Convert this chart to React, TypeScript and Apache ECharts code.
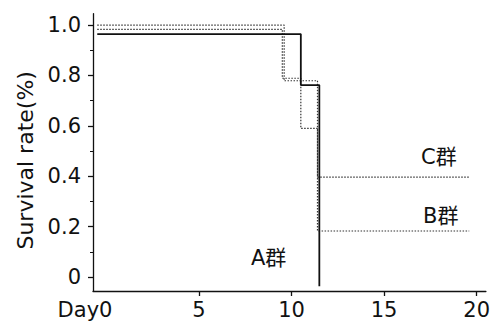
import React, { useEffect, useRef } from "react";
import * as echarts from "echarts";

const groupA: [number, number][] = [
  [-0.5, 0.964],
  [10.5, 0.762],
  [11.5, -0.036],
];
const groupB: [number, number][] = [
  [-0.5, 0.983],
  [9.5, 0.789],
  [10.5, 0.59],
  [11.4, 0.183],
  [19.6, 0.183],
];
const groupC: [number, number][] = [
  [-0.5, 1.0],
  [9.6, 0.779],
  [11.4, 0.397],
  [19.6, 0.397],
];
const xTicks = [5, 10, 15, 20];
const xLabels = [0, 5, 10, 15, 20];
const yTicks = [0, 0.2, 0.4, 0.6, 0.8, 1.0];
const yMinorTicks = [0.1, 0.3, 0.5, 0.7, 0.9];
const yLabelText = ["0", "0.2", "0.4", "0.6", "0.8", "1.0"];

const FONT = "'DejaVu Sans', 'Noto Sans CJK JP', sans-serif";

export default function App() {
  const ref = useRef<HTMLDivElement>(null);
  useEffect(() => {
    if (!ref.current) return;
    const chart = echarts.init(ref.current, undefined, { renderer: "svg" });
    const grid = { left: 93, right: 3.6, top: 13.7, bottom: 40 };
    const yBase = {
      type: "value" as const,
      min: -0.055,
      max: 1.045,
      splitLine: { show: false },
    };
    chart.setOption({
      animation: false,
      backgroundColor: "#fff",
      textStyle: { fontFamily: FONT },
      grid,
      xAxis: {
        type: "value",
        min: -0.73,
        max: 20.5,
        splitLine: { show: false },
        axisLine: { show: true, onZero: false, lineStyle: { color: "#111", width: 1.3 } },
        axisTick: {
          show: true,
          length: 5,
          customValues: xTicks,
          lineStyle: { color: "#111", width: 1.3 },
        },
        axisLabel: {
          customValues: xLabels,
          fontSize: 21,
          color: "#111",
          margin: 8,
          fontFamily: FONT,
          formatter: (v: number) => (v === 0 ? "{d|Day0}" : String(v)),
          rich: {
            d: { fontSize: 21, color: "#111", fontFamily: FONT, padding: [0, 43, 0, 0] },
          },
        },
      },
      yAxis: [
        {
          ...yBase,
          axisLine: { show: true, onZero: false, lineStyle: { color: "#111", width: 1.3 } },
          axisTick: {
            show: true,
            length: 5,
            customValues: yTicks,
            lineStyle: { color: "#111", width: 1.3 },
          },
          axisLabel: {
            customValues: yTicks,
            fontSize: 21,
            color: "#111",
            margin: 12,
            fontFamily: FONT,
            formatter: (v: number) => {
              const i = yTicks.findIndex((t) => Math.abs(t - v) < 1e-6);
              return i >= 0 ? yLabelText[i] : "";
            },
          },
          name: "Survival rate(%)",
          nameLocation: "middle",
          nameGap: 57,
          nameRotate: 90,
          nameTextStyle: { fontSize: 22, color: "#111", fontFamily: FONT, padding: [0, 16, 0, 0] },
        },
        {
          ...yBase,
          position: "left",
          offset: 0,
          axisLine: { show: false, onZero: false },
          axisTick: {
            show: true,
            inside: false,
            length: 3,
            customValues: yMinorTicks,
            lineStyle: { color: "#111", width: 1 },
          },
          axisLabel: { show: false },
        },
      ],
      series: [
        {
          name: "C群",
          type: "line",
          step: "end",
          data: groupC,
          symbol: "none",
          lineStyle: { color: "#333", width: 1.2, type: [1.5, 1.5] },
        },
        {
          name: "B群",
          type: "line",
          step: "end",
          data: groupB,
          symbol: "none",
          lineStyle: { color: "#333", width: 1.2, type: [1.5, 1.5] },
        },
        {
          name: "A群",
          type: "line",
          step: "end",
          data: groupA,
          symbol: "none",
          lineStyle: { color: "#111", width: 1.8 },
        },
      ],
      graphic: [
        { type: "text", x: 421, y: 157, style: { text: "C群", fill: "#111", font: `21px ${FONT}`, align: "left", verticalAlign: "middle" } },
        { type: "text", x: 423, y: 216, style: { text: "B群", fill: "#111", font: `21px ${FONT}`, align: "left", verticalAlign: "middle" } },
        { type: "text", x: 251, y: 258, style: { text: "A群", fill: "#111", font: `21px ${FONT}`, align: "left", verticalAlign: "middle" } },
      ],
    });
    return () => chart.dispose();
  }, []);
  return (
    <div
      ref={ref}
      style={{ position: "fixed", left: 0, top: 0, width: 493, height: 331 }}
    />
  );
}
